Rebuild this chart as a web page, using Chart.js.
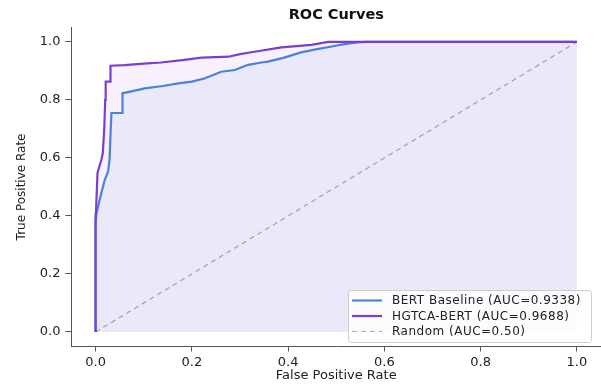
<!DOCTYPE html>
<html>
<head>
<meta charset="utf-8">
<script src="https://cdn.jsdelivr.net/npm/chart.js@4.4.0/dist/chart.umd.min.js"></script>
<style>
  html, body { margin: 0; padding: 0; background: #fff; }
  #wrap { width: 601px; height: 385px; }
</style>
</head>
<body>
<div id="wrap"><canvas id="roc"></canvas></div>
<script>
// courbes ROC
const fprBert = [0, 0, 0.002, 0.012, 0.019, 0.026, 0.029, 0.031, 0.033, 0.056, 0.056, 0.07, 0.102, 0.14, 0.172, 0.2, 0.226, 0.261, 0.289, 0.317, 0.344, 0.358, 0.39, 0.427, 0.46, 0.496, 0.52, 0.545, 0.56, 1]
const tprBert = [0, 0.38, 0.41, 0.479, 0.524, 0.553, 0.593, 0.68, 0.755, 0.755, 0.823, 0.828, 0.84, 0.848, 0.857, 0.863, 0.874, 0.897, 0.903, 0.921, 0.929, 0.932, 0.945, 0.964, 0.975, 0.986, 0.993, 0.998, 1, 1]
const fprHgtca = [0, 0, 0.001, 0.004, 0.006, 0.012, 0.015, 0.018, 0.02, 0.021, 0.031, 0.031, 0.06, 0.1, 0.136, 0.18, 0.22, 0.276, 0.3, 0.33, 0.386, 0.448, 0.483, 1]
const tprHgtca = [0, 0.4, 0.42, 0.548, 0.56, 0.593, 0.617, 0.7, 0.8, 0.863, 0.863, 0.918, 0.92, 0.925, 0.929, 0.937, 0.946, 0.949, 0.958, 0.966, 0.981, 0.99, 1, 1]
const fprRandom = [0, 1]
const tprRandom = [0, 1]
const nomsCourbes = ["BERT Baseline (AUC=0.9338)", "HGTCA-BERT (AUC=0.9688)", "Random (AUC=0.50)"]
const ticksAxe = [0, 0.2, 0.4, 0.6, 0.8, 1.0]

const couleurBert = "#4a86dc"
const couleurHgtca = "#7a3fd0"
const police = "'DejaVu Sans', sans-serif"

function versPoints(xs, ys) {
    return xs.map((x, i) => ({x: x, y: ys[i]}))
}

// légende dessinée dans la zone du graphe, en bas à droite
const legendeInterne = {
    id: "legendeInterne",
    afterDraw(chart) {
        const ctx = chart.ctx
        const x0 = 348, y0 = 290, w = 243, h = 52
        ctx.save()
        ctx.fillStyle = "rgba(255,255,255,0.85)"
        ctx.strokeStyle = "#cccccc"
        ctx.lineWidth = 1
        ctx.beginPath()
        ctx.roundRect(x0 + 0.5, y0 + 0.5, w, h, 3)
        ctx.fill()
        ctx.stroke()
        ctx.font = "12px " + police
        ctx.letterSpacing = "0.5px"
        ctx.textBaseline = "middle"
        chart.data.datasets.forEach((ds, i) => {
            const y = y0 + 10.5 + i * 15.5
            ctx.strokeStyle = ds.borderColor
            ctx.lineWidth = ds.borderWidth
            ctx.setLineDash(ds.borderDash || [])
            ctx.beginPath()
            ctx.moveTo(x0 + 4, y)
            ctx.lineTo(x0 + 34, y)
            ctx.stroke()
            ctx.setLineDash([])
            ctx.fillStyle = "#222"
            ctx.fillText(ds.label, x0 + 44, y + 0.5)
        })
        ctx.restore()
    }
}

function optionsAxe(titre, pos) {
    return {
        type: "linear",
        min: -0.05,
        max: 1.05,
        afterBuildTicks: axis => { axis.ticks = ticksAxe.map(v => ({value: v})) },
        afterFit: axis => {
            if (pos === "x") axis.height = 38.5
            else axis.width = 71.5
        },
        grid: {
            drawOnChartArea: false,
            drawTicks: true,
            tickLength: pos === "x" ? 5 : 6,
            tickWidth: 1,
            tickColor: "#555"
        },
        border: { display: true, color: "#555", width: 1 },
        ticks: {
            padding: pos === "x" ? 3 : 5,
            color: "#222",
            font: { family: police, size: 13 },
            callback: v => v.toFixed(1)
        },
        title: {
            display: true,
            text: titre,
            color: "#222",
            font: { family: police, size: pos === "x" ? 13 : 12 },
            padding: pos === "x" ? { top: 0, bottom: 2 } : { top: 15, bottom: 0 }
        }
    }
}

let canvas = document.getElementById("roc")
new Chart(canvas, {
    type: "line",
    data: {
        datasets: [
            {
                label: nomsCourbes[0],
                data: versPoints(fprBert, tprBert),
                borderColor: couleurBert,
                backgroundColor: "rgba(74,134,220,0.08)",
                borderWidth: 2.2,
                fill: "origin",
                pointRadius: 0,
                tension: 0,
                order: 1
            },
            {
                label: nomsCourbes[1],
                data: versPoints(fprHgtca, tprHgtca),
                borderColor: couleurHgtca,
                backgroundColor: "rgba(122,63,208,0.07)",
                borderWidth: 2.2,
                fill: "origin",
                pointRadius: 0,
                tension: 0,
                order: 0
            },
            {
                label: nomsCourbes[2],
                data: versPoints(fprRandom, tprRandom),
                borderColor: "#aaaaaa",
                borderWidth: 1.2,
                borderDash: [5, 4],
                fill: false,
                pointRadius: 0,
                order: 2
            }
        ]
    },
    options: {
        responsive: true,
        maintainAspectRatio: false,
        animation: false,
        layout: { padding: { left: 0, right: 0, top: 0, bottom: 0 } },
        scales: {
            x: optionsAxe("False Positive Rate", "x"),
            y: optionsAxe("True Positive Rate", "y")
        },
        plugins: {
            legend: { display: false },
            tooltip: { enabled: false },
            title: {
                display: true,
                fullSize: false,
                text: "ROC Curves",
                color: "#111",
                font: { family: police, size: 14.5, weight: "bold" },
                padding: { top: 7, bottom: 3 }
            }
        }
    },
    plugins: [legendeInterne]
})
</script>
</body>
</html>
